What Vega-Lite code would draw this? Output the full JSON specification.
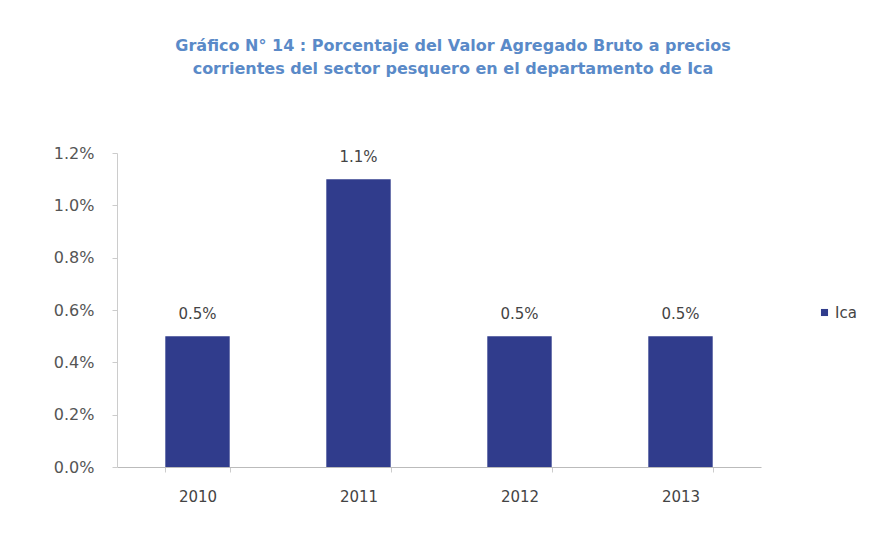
{
  "$schema": "https://vega.github.io/schema/vega-lite/v6.json",
  "autosize": {"type": "none"},
  "width": 644,
  "height": 314,
  "padding": {"left": 117, "top": 153, "right": 123, "bottom": 69},
  "background": "white",
  "config": {
    "font": "DejaVu Sans",
    "view": {"stroke": null}
  },
  "title": {
    "text": ["Gráfico  N° 14 : Porcentaje del Valor Agregado Bruto a precios", "corrientes del sector pesquero en el departamento de Ica"],
    "anchor": "middle",
    "dx": 14,
    "offset": 68,
    "fontSize": 16,
    "fontWeight": "bold",
    "color": "#5a8ac8",
    "lineHeight": 23,
    "font": "DejaVu Sans"
  },
  "data": {
    "values": [
      {"year": "2010", "serie": "Ica", "value": 0.005},
      {"year": "2011", "serie": "Ica", "value": 0.011},
      {"year": "2012", "serie": "Ica", "value": 0.005},
      {"year": "2013", "serie": "Ica", "value": 0.005}
    ]
  },
  "encoding": {
    "x": {
      "field": "year",
      "type": "nominal",
      "scale": {"paddingInner": 0.6, "paddingOuter": 0.3},
      "axis": {
        "title": null,
        "labelAngle": 0,
        "labelFontSize": 15,
        "labelColor": "#444",
        "labelPadding": 17,
        "domainColor": "#bbb",
        "ticks": true,
        "tickBand": "extent",
        "tickColor": "#ccc",
        "tickSize": 5
      }
    },
    "y": {
      "field": "value",
      "type": "quantitative",
      "scale": {"domain": [0, 0.012]},
      "axis": {
        "title": null,
        "format": ".1%",
        "values": [0, 0.002, 0.004, 0.006, 0.008, 0.01, 0.012],
        "grid": false,
        "labelFontSize": 16,
        "labelColor": "#555",
        "labelPadding": 18,
        "domainColor": "#ccc",
        "tickColor": "#ccc",
        "tickSize": 5
      }
    }
  },
  "layer": [
    {
      "mark": {"type": "bar", "color": "#303c8c"},
      "encoding": {
        "color": {
          "field": "serie",
          "type": "nominal",
          "scale": {"range": ["#303c8c"]},
          "legend": {
            "title": null,
            "orient": "none",
            "legendX": 700,
            "legendY": 152,
            "symbolType": "square",
            "symbolSize": 50,
            "labelFontSize": 15,
            "labelColor": "#444",
            "labelOffset": 3
          }
        }
      }
    },
    {
      "mark": {"type": "text", "dy": -22, "fontSize": 15, "color": "#444", "baseline": "middle"},
      "encoding": {
        "text": {"field": "value", "type": "quantitative", "format": ".1%"}
      }
    }
  ]
}
